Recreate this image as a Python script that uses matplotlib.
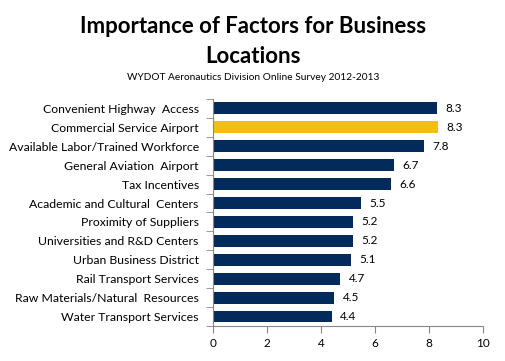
import numpy as np
import matplotlib
matplotlib.use("Agg")
import matplotlib.pyplot as plt

categories = ["Convenient Highway  Access", "Commercial Service Airport",
              "Available Labor/Trained Workforce", "General Aviation  Airport",
              "Tax Incentives", "Academic and Cultural  Centers",
              "Proximity of Suppliers", "Universities and R&D Centers",
              "Urban Business District", "Rail Transport Services",
              "Raw Materials/Natural  Resources", "Water Transport Services"]
values = [8.3, 8.33, 7.82, 6.7, 6.6, 5.48, 5.2, 5.2, 5.12, 4.72, 4.5, 4.42]
labels = ["8.3", "8.3", "7.8", "6.7", "6.6", "5.5", "5.2", "5.2", "5.1", "4.7", "4.5", "4.4"]
highlight = "Commercial Service Airport"

plt.rcParams['font.family'] = ['Lato', 'DejaVu Sans']

navy = "#022a5a"
gold = "#f0c010"
colors = [gold if c == highlight else navy for c in categories]

fig = plt.figure(figsize=(5.06, 3.61), dpi=100)
ax = fig.add_axes([0.4204, 0.097, 0.5346, 0.6288])

y = np.arange(len(categories))
ax.barh(y, values, height=0.63, color=colors)
ax.set_ylim(len(categories) - 0.5, -0.5)
ax.set_xlim(0, 10)

for yi, v, lab in zip(y, values, labels):
    ax.text(v + 0.3, yi, lab, va="center", ha="left", fontsize=8.5, color="black")

ax.set_xticks([0, 2, 4, 6, 8, 10])
ax.set_yticks(y)
ax.set_yticklabels(categories, fontsize=8.8)
ax.set_yticks(np.arange(-0.5, len(categories), 1), minor=True)
ax.tick_params(axis="y", which="major", length=0, pad=10)
ax.tick_params(axis="y", which="minor", length=5, color="#888888", direction="out")
ax.tick_params(axis="x", length=5, color="#888888", labelsize=8.5, pad=4)
for s in ["top", "right"]:
    ax.spines[s].set_visible(False)
for s in ["left", "bottom"]:
    ax.spines[s].set_color("#888888")

fig.text(0.5, 0.9086, "Importance of Factors for Business", ha="center", va="baseline",
         fontsize=16, fontweight="bold")
fig.text(0.5, 0.8255, "Locations", ha="center", va="baseline", fontsize=16, fontweight="bold")
fig.text(0.5, 0.778, "WYDOT Aeronautics Division Online Survey 2012-2013", ha="center",
         va="baseline", fontsize=7.3)

fig.savefig("out.png", dpi=100)
